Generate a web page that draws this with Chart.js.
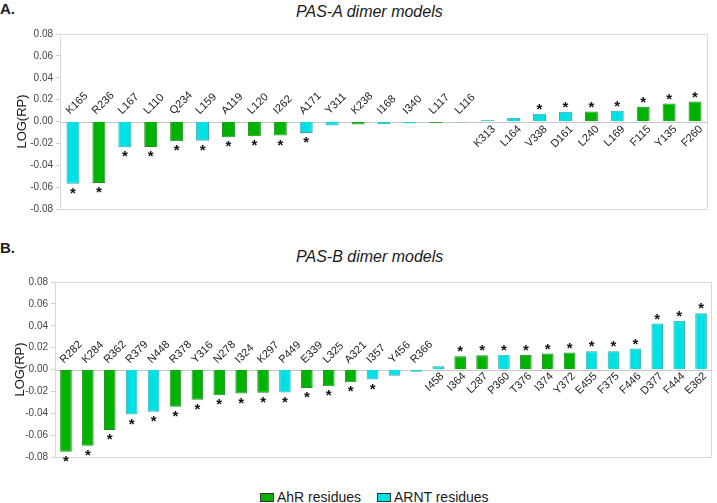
<!DOCTYPE html>
<html>
<head>
<meta charset="utf-8">
<script src="https://cdn.jsdelivr.net/npm/chart.js@4/dist/chart.umd.min.js"></script>
<style>
  html, body { margin: 0; padding: 0; background: #fff; }
  body { width: 717px; height: 503px; position: relative; overflow: hidden; font-family: "Liberation Sans", Arial, sans-serif; color: #1a1a1a; }
  .panel { position: absolute; left: 0; font-weight: bold; font-size: 15px; }
  .title { position: absolute; font-style: italic; font-size: 16px; white-space: nowrap; }
  canvas { position: absolute; left: 0; }
  .legend { position: absolute; top: 489px; left: 260px; font-size: 14px; white-space: nowrap; }
  .legend span.box { display: inline-block; width: 12px; height: 7px; border: 1px solid #333; vertical-align: middle; margin-right: 3px; position: relative; top: -1px; }
  .legend span.item { margin-right: 12px; }
</style>
</head>
<body>
<div class="panel" style="top:0px;">A.</div>
<div class="title" style="left:296px; top:3px;">PAS-A dimer models</div>
<canvas id="chartA" width="717" height="210" style="top:20px;"></canvas>
<div class="panel" style="top:239px;">B.</div>
<div class="title" style="left:296px; top:248px;">PAS-B dimer models</div>
<canvas id="chartB" width="717" height="225" style="top:250px;"></canvas>
<div class="legend">
  <span class="item"><span class="box" style="background:#00b300;"></span>AhR residues</span>
  <span class="item"><span class="box" style="background:#00e1e6;"></span>ARNT residues</span>
</div>
<script>
// ---------- PAS-A dimer models ----------
const pasACategories = ["K165","R236","L167","L110","Q234","L159","A119","L120","I262","A171","Y311","K238","I168","I340","L117","L116","K313","L164","V338","D161","L240","L169","F115","Y135","F260"];
const pasAValues = [-0.057,-0.0563,-0.0235,-0.0232,-0.018,-0.0176,-0.0143,-0.0134,-0.0128,-0.0106,-0.0037,-0.0027,-0.0024,-0.0018,-0.0015,-0.0009,0.0015,0.0034,0.007,0.0089,0.0092,0.0098,0.0134,0.0165,0.0183];
const pasAGroups = ["ARNT","AhR","ARNT","AhR","AhR","ARNT","AhR","AhR","AhR","ARNT","ARNT","AhR","ARNT","ARNT","AhR","ARNT","ARNT","ARNT","ARNT","ARNT","AhR","ARNT","AhR","AhR","AhR"];
const pasASignificant = [1,1,1,1,1,1,1,1,1,1,0,0,0,0,0,0,0,0,1,1,1,1,1,1,1];

// ---------- PAS-B dimer models ----------
const pasBCategories = ["R282","K284","R362","R379","N448","R378","Y316","N278","I324","K297","P449","E339","L325","A321","I357","Y456","R366","I458","I364","L287","P360","T376","I374","Y372","E455","F375","F446","D377","F444","E362"];
const pasBValues = [-0.0753,-0.0698,-0.0552,-0.0412,-0.0387,-0.0341,-0.0277,-0.0235,-0.022,-0.0213,-0.021,-0.0168,-0.0152,-0.0116,-0.0091,-0.0058,-0.0021,0.003,0.0122,0.013,0.0134,0.0134,0.0146,0.0155,0.0168,0.0168,0.0192,0.042,0.0445,0.0515];
const pasBGroups = ["AhR","AhR","AhR","ARNT","ARNT","AhR","AhR","AhR","AhR","AhR","ARNT","AhR","AhR","AhR","ARNT","ARNT","ARNT","ARNT","AhR","AhR","ARNT","AhR","AhR","AhR","ARNT","ARNT","ARNT","ARNT","ARNT","ARNT"];
const pasBSignificant = [1,1,1,1,1,1,1,1,1,1,1,1,1,1,1,0,0,0,1,1,1,1,1,1,1,1,1,1,1,1];

const yTickValues = [-0.08,-0.06,-0.04,-0.02,0,0.02,0.04,0.06,0.08];

const groupFill = { AhR: "#00b300", ARNT: "#00e1e6" };
const groupBorder = { AhR: "#229022", ARNT: "#3aa6aa" };

const annotatePlugin = {
  id: "annotate",
  beforeDatasetsDraw(chart) {
    const { ctx, chartArea } = chart;
    ctx.save();
    ctx.strokeStyle = "#d9d9d9";
    ctx.lineWidth = 1;
    ctx.strokeRect(chartArea.left + 0.5, chartArea.top + 0.5, chartArea.right - chartArea.left - 1, chartArea.bottom - chartArea.top);
    const zy = Math.round(chart.scales.y.getPixelForValue(0)) + 0.5;
    ctx.strokeStyle = "#c8c8c8";
    ctx.beginPath(); ctx.moveTo(chartArea.left, zy); ctx.lineTo(chartArea.right, zy); ctx.stroke();
    ctx.restore();
  },
  afterDatasetsDraw(chart) {
    const { ctx } = chart;
    const cfg = chart.options.plugins.annotate;
    const meta = chart.getDatasetMeta(0);
    const zero = chart.scales.y.getPixelForValue(0);
    const labels = chart.data.labels;
    const values = chart.data.datasets[0].data;
    ctx.save();
    meta.data.forEach((bar, i) => {
      const v = values[i];
      ctx.save();
      ctx.font = cfg.labelFont;
      ctx.fillStyle = "#1a1a1a";
      ctx.textBaseline = "middle";
      if (v < 0) {
        ctx.translate(bar.x + cfg.negDx, zero + cfg.negDy);
        ctx.rotate(-Math.PI / 4);
        ctx.textAlign = "left";
      } else {
        ctx.translate(bar.x + cfg.posDx, zero + cfg.posDy);
        ctx.rotate(-Math.PI / 4);
        ctx.textAlign = "right";
      }
      ctx.fillText(labels[i], 0, 0);
      ctx.restore();
      if (cfg.significant[i]) {
        ctx.font = "bold 15px 'Liberation Sans', Arial, sans-serif";
        ctx.fillStyle = "#111";
        ctx.textAlign = "center";
        ctx.textBaseline = "middle";
        if (v < 0) ctx.fillText("*", bar.x, bar.y + 10);
        else ctx.fillText("*", bar.x, bar.y - 4);
      }
    });
    ctx.restore();
  }
};

function makeChart(id, categories, values, groups, significant, opts) {
  return new Chart(document.getElementById(id), {
    type: "bar",
    data: {
      labels: categories,
      datasets: [{
        data: values,
        backgroundColor: groups.map(g => groupFill[g]),
        borderColor: groups.map(g => groupBorder[g]),
        borderWidth: 1,
        categoryPercentage: 1.0,
        barPercentage: opts.barPct
      }]
    },
    options: {
      responsive: false,
      animation: false,
      devicePixelRatio: 1,
      layout: { padding: { left: 0, top: opts.padTop, right: opts.padRight, bottom: opts.padBottom } },
      plugins: {
        legend: { display: false },
        tooltip: { enabled: false },
        annotate: {
          significant: significant,
          labelFont: opts.labelFont,
          negDx: opts.negDx, negDy: opts.negDy, posDx: opts.posDx, posDy: opts.posDy
        }
      },
      scales: {
        x: { display: false },
        y: {
          min: -0.08, max: 0.08,
          afterBuildTicks(scale) {
            const t = [];
            for (let k = -8; k <= 8; k++) t.push({ value: k / 100 });
            scale.ticks = t;
          },
          afterFit(scale) { scale.width = opts.axisWidth; },
          ticks: {
            font: { size: 10, family: "'Liberation Sans', Arial, sans-serif" },
            color: "#444",
            padding: 3,
            callback(value) {
              const k = Math.round(value * 100);
              if (k % 2 !== 0) return "";
              const hit = yTickValues.find(t => Math.abs(t - value) < 1e-9);
              return hit === undefined ? "" : (Math.abs(hit) < 1e-9 ? "0.00" : hit.toFixed(2));
            }
          },
          grid: { drawOnChartArea: false, drawTicks: true, tickLength: 4, color: "#cfcfcf" },
          border: { display: true, color: "#cfcfcf" },
          title: {
            display: true,
            text: "LOG(RP)",
            color: "#1a1a1a",
            font: { size: 13, family: "'Liberation Sans', Arial, sans-serif" },
            padding: { top: opts.titlePad, bottom: 0 }
          }
        }
      }
    },
    plugins: [annotatePlugin]
  });
}

makeChart("chartA", pasACategories, pasAValues, pasAGroups, pasASignificant, {
  barPct: 0.5, padTop: 14, padRight: 9, padBottom: 21, axisWidth: 60, titlePad: 15,
  labelFont: "11px 'Liberation Sans', Arial, sans-serif",
  negDx: -5, negDy: -9, posDx: 6, posDy: 6
});
makeChart("chartB", pasBCategories, pasBValues, pasBGroups, pasBSignificant, {
  barPct: 0.53, padTop: 32, padRight: 5, padBottom: 18, axisWidth: 55, titlePad: 13,
  labelFont: "11px 'Liberation Sans', Arial, sans-serif",
  negDx: -4, negDy: -8, posDx: 4, posDy: 5
});
</script>
</body>
</html>
